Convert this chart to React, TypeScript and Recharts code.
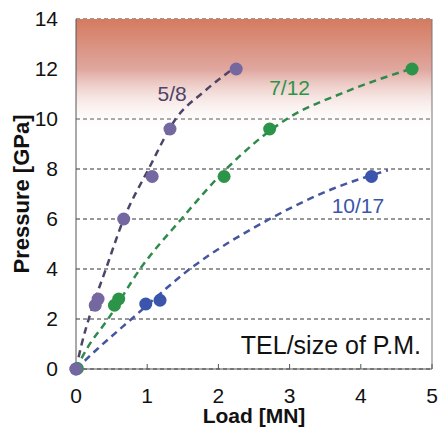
import { ComposedChart, Line, Scatter, XAxis, YAxis, CartesianGrid, ReferenceArea, ReferenceLine, ReferenceDot, Label } from "recharts";

// measured points (Load MN, Pressure GPa)
const pts58 = [
  { x: 0, y: 0 },
  { x: 0.27, y: 2.55 },
  { x: 0.31, y: 2.8 },
  { x: 0.67, y: 6.0 },
  { x: 1.07, y: 7.7 },
  { x: 1.32, y: 9.6 },
  { x: 2.25, y: 12.0 },
];
const pts712 = [
  { x: 0.02, y: 0.02 },
  { x: 0.54, y: 2.55 },
  { x: 0.6, y: 2.8 },
  { x: 2.08, y: 7.7 },
  { x: 2.72, y: 9.6 },
  { x: 4.72, y: 12.0 },
];
const pts1017 = [
  { x: 0, y: 0 },
  { x: 0.98, y: 2.6 },
  { x: 1.18, y: 2.75 },
  { x: 4.15, y: 7.7 },
];

// fitted dashed curves
const fit58 = [
  { x: 0, y: 0 },
  { x: 0.08, y: 1.0 },
  { x: 0.2, y: 2.2 },
  { x: 0.42, y: 4.0 },
  { x: 0.67, y: 6.0 },
  { x: 1.02, y: 8.0 },
  { x: 1.4, y: 10.0 },
  { x: 1.8, y: 11.1 },
  { x: 2.25, y: 12.1 },
];
const fit712 = [
  { x: 0, y: 0 },
  { x: 0.15, y: 0.8 },
  { x: 0.45, y: 2.0 },
  { x: 0.9, y: 4.0 },
  { x: 1.48, y: 6.0 },
  { x: 2.11, y: 8.0 },
  { x: 2.96, y: 10.0 },
  { x: 3.8, y: 11.1 },
  { x: 4.75, y: 12.05 },
];
const fit1017 = [
  { x: 0, y: 0 },
  { x: 0.3, y: 0.8 },
  { x: 0.78, y: 2.0 },
  { x: 1.6, y: 4.0 },
  { x: 2.72, y: 6.0 },
  { x: 3.6, y: 7.2 },
  { x: 4.38, y: 7.95 },
];

const xTicks = [0, 1, 2, 3, 4, 5];
const yTicks = [0, 2, 4, 6, 8, 10, 12, 14];

const PURPLE = "#75679f";
const PURPLE_LINE = "#4d4468";
const GREEN = "#2c9448";
const GREEN_LINE = "#2f8a4c";
const BLUE = "#3a55ab";
const BLUE_LINE = "#4555a0";

const font = "'Liberation Sans', Arial, sans-serif";

export default function App() {
  return (
    <div style={{ position: "absolute", left: 0, top: 0, background: "#fff" }}>
      <ComposedChart
        width={441}
        height={428}
        margin={{ top: 19, right: 9, left: 0, bottom: 0 }}
        style={{ fontFamily: font }}
      >
        <defs>
          <linearGradient id="heat" x1="0" y1="0" x2="0" y2="1">
            <stop offset="0%" stopColor="#d47b5f" />
            <stop offset="45%" stopColor="#e0a79f" />
            <stop offset="100%" stopColor="#ffffff" stopOpacity={0} />
          </linearGradient>
        </defs>
        <ReferenceArea x1={0} x2={5} y1={9.5} y2={14} fill="url(#heat)" fillOpacity={1} stroke="none" />
        <CartesianGrid vertical={false} stroke="#333" strokeDasharray="4 3" />
        <XAxis
          type="number"
          dataKey="x"
          domain={[0, 5]}
          ticks={xTicks}
          height={59}
          stroke="#555"
          tickSize={-5}
          tickMargin={24}
          tick={{ fill: "#111", fontSize: 21 }}
        >
          <Label value="Load [MN]" position="insideBottom" offset={5} fill="#111" fontSize={21} fontWeight="bold" />
        </XAxis>
        <YAxis
          type="number"
          dataKey="y"
          domain={[0, 14]}
          ticks={yTicks}
          width={76}
          stroke="#555"
          tickLine={false}
          tickSize={8}
          tickMargin={10}
          tick={{ fill: "#111", fontSize: 21 }}
        >
          <Label value="Pressure [GPa]" angle={-90} position="insideLeft" offset={21} style={{ textAnchor: "middle" }} fill="#111" fontSize={22} fontWeight="bold" />
        </YAxis>
        <ReferenceLine x={5} stroke="#777" />
        <Line data={fit58} dataKey="y" type="monotone" stroke={PURPLE_LINE} strokeWidth={2.5} strokeDasharray="7 5" dot={false} isAnimationActive={false} />
        <Line data={fit712} dataKey="y" type="monotone" stroke={GREEN_LINE} strokeWidth={2.5} strokeDasharray="7 5" dot={false} isAnimationActive={false} />
        <Line data={fit1017} dataKey="y" type="monotone" stroke={BLUE_LINE} strokeWidth={2.5} strokeDasharray="7 5" dot={false} isAnimationActive={false} />
        <Scatter data={pts1017} fill={BLUE} shape={(p: any) => <circle cx={p.cx} cy={p.cy} r={6.5} fill={BLUE} />} isAnimationActive={false} />
        <Scatter data={pts712} fill={GREEN} shape={(p: any) => <circle cx={p.cx} cy={p.cy} r={6.5} fill={GREEN} />} isAnimationActive={false} />
        <Scatter data={pts58} fill={PURPLE} shape={(p: any) => <circle cx={p.cx} cy={p.cy} r={6.5} fill={PURPLE} />} isAnimationActive={false} />
        <ReferenceDot x={1.35} y={11.0} r={0} fill="none" stroke="none" label={{ value: "5/8", position: "center", fill: "#4d4468", fontSize: 21 }} />
        <ReferenceDot x={3.0} y={11.25} r={0} fill="none" stroke="none" label={{ value: "7/12", position: "center", fill: GREEN, fontSize: 21 }} />
        <ReferenceDot x={3.96} y={6.55} r={0} fill="none" stroke="none" label={{ value: "10/17", position: "center", fill: BLUE, fontSize: 21 }} />
        <ReferenceDot x={3.58} y={0.97} r={0} fill="none" stroke="none" label={{ value: "TEL/size of P.M.", position: "center", fill: "#111", fontSize: 25 }} />
      </ComposedChart>
    </div>
  );
}
